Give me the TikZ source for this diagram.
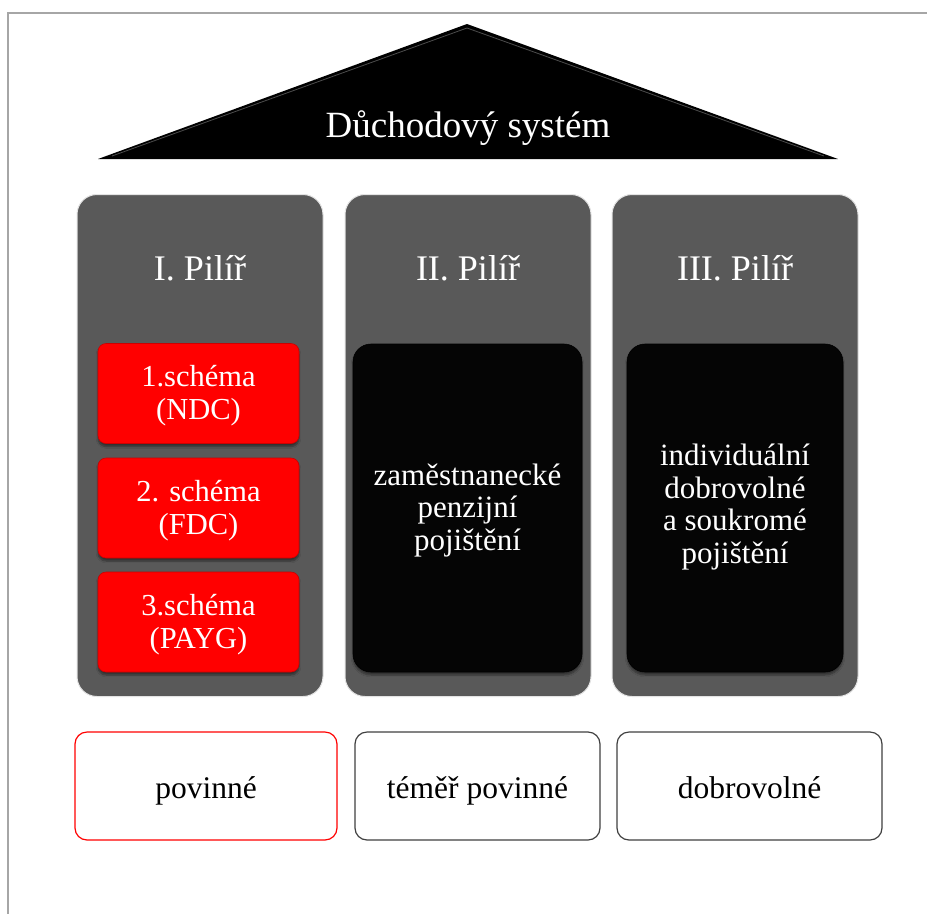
\documentclass[tikz,border=0pt]{standalone}
\usepackage{fontspec}
\setmainfont{Liberation Serif}
\usetikzlibrary{shadows.blur,calc}
\definecolor{framegray}{HTML}{A6A6A6}
\definecolor{pillargray}{HTML}{595959}
\definecolor{pillaredge}{HTML}{E3E3E3}
\definecolor{boxblack}{HTML}{050505}
\definecolor{schemared}{HTML}{FF0000}
\definecolor{labeledge}{HTML}{404040}
\tikzset{
  pillar/.style={draw=pillaredge, line width=1pt, fill=pillargray, rounded corners=20pt,
    minimum width=246pt, minimum height=502pt, inner sep=0pt},
  pillartitle/.style={text=white, font=\fontsize{36}{40}\selectfont, anchor=base},
  schemebox/.style={fill=schemared, draw=red!80!black, line width=0.6pt, rounded corners=8pt,
    minimum width=201pt, minimum height=100pt, inner sep=0pt, text=white, align=center,
    font=\fontsize{30.5}{33}\selectfont, text height=56pt, text depth=4pt,
    blur shadow={shadow xshift=0pt, shadow yshift=-3pt, shadow blur steps=6, shadow opacity=45}},
  blackbox/.style={fill=boxblack, draw=black, line width=0.6pt, rounded corners=18pt,
    minimum height=328pt, inner sep=0pt, text=white, align=center,
    font=\fontsize{31}{32.5}\selectfont, text depth=6pt,
    blur shadow={shadow xshift=0pt, shadow yshift=-3pt, shadow blur steps=6, shadow opacity=45}},
  labelbox/.style={draw=labeledge, line width=1.2pt, fill=white, rounded corners=12pt,
    minimum height=108pt, inner sep=0pt, text=black, font=\fontsize{31.5}{34}\selectfont,
    text height=27pt, text depth=3pt}
}
\begin{document}
\begin{tikzpicture}[x=1pt, y=-1pt]
\useasboundingbox (0,0) rectangle (927,914);
% frame lines
\draw[framegray, line width=2pt] (927,13) -- (8,13) -- (8,914);
% roof
\coordinate (roofL) at (98,159);
\coordinate (roofT) at (467,24);
\coordinate (roofR) at (838,159);
\fill[black] (roofL) -- (roofT) -- (roofR) -- cycle;
\draw[white!30!black, line width=0.8pt, line join=round] ($(roofL)+(14,-3)$) -- ($(roofT)+(0,4)$) -- ($(roofR)+(-14,-3)$);
\node[text=white, font=\fontsize{37}{40}\selectfont, anchor=base] (title) at (468,137) {Důchodový systém};
% pillars
\node[pillar] (p1) at (200,445.5) {};
\node[pillar] (p2) at (468,445.5) {};
\node[pillar] (p3) at (735,445.5) {};
\node[pillartitle] (t1) at (200,280) {I. Pilíř};
\node[pillartitle] (t2) at (468,280) {II. Pilíř};
\node[pillartitle] (t3) at (735,280) {III. Pilíř};
% schemes
\node[schemebox] (s1) at (198.5,393.5) {1.schéma\\(NDC)};
\node[schemebox] (s2) at (198.5,508) {2. schéma\\(FDC)};
\node[schemebox] (s3) at (198.5,622) {3.schéma\\(PAYG)};
% black boxes
\node[blackbox, minimum width=229pt, text height=90pt] (b2) at (467.5,508) {zaměstnanecké\\penzijní\\pojištění};
\node[blackbox, minimum width=216pt, text height=116pt] (b3) at (735,508) {individuální\\dobrovolné\\a soukromé\\pojištění};
% labels
\node[labelbox, draw=red, minimum width=262pt] (l1) at (206,786) {povinné};
\node[labelbox, minimum width=245pt] (l2) at (477.5,786) {téměř povinné};
\node[labelbox, minimum width=265pt] (l3) at (749.5,786) {dobrovolné};
\end{tikzpicture}
\end{document}
